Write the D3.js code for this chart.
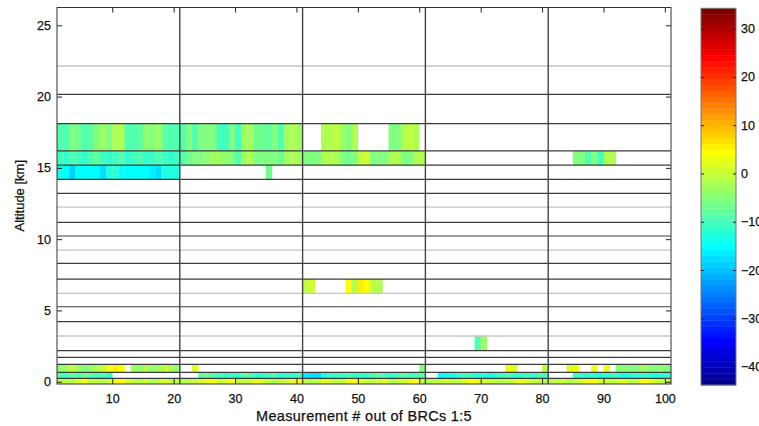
<!DOCTYPE html>
<html>
<head>
<meta charset="utf-8">
<script src="https://cdn.jsdelivr.net/npm/d3@7"></script>
<style>
  body { margin: 0; background: #fff; }
  svg { display: block; }
  text { font-family: "Liberation Sans", Arial, Helvetica, sans-serif; fill: #111; }
</style>
</head>
<body>
<svg id="chart" width="759" height="426"></svg>
<script>
const _ = null;

// Measurement index runs 1..100, one column per measurement
const measurements = d3.range(1, 101);

// Layer boundaries (km) drawn as horizontal rules
const darkLevels = [20.16, 18.11, 16.19, 15.19, 14.19, 13.21, 11.18, 10.22, 8.3, 7.2, 5.26, 4.21, 2.18, 1.71, 1.22, 0.66, 0.24];
const lightLevels = [22.15, 12.25, 9.23, 6.2, 3.21];

// Boundaries between measurement blocks
const blockBreaks = [21, 41, 61, 81];

// Tick values
const xTicks = [10, 20, 30, 40, 50, 60, 70, 80, 90, 100];
const yTicks = [0, 5, 10, 15, 20, 25];
const cTicks = [-40, -30, -20, -10, 0, 10, 20, 30];
const colorDomain = [-43.8, 34.2];

// Layer bottoms / tops (km)
const layerBottoms = [16.19, 15.19, 14.19, 6.2, 2.18, 0.66, 0.24, -0.16];
const layerTops    = [18.11, 16.19, 15.19, 7.2, 3.21, 1.22, 0.66, 0.24];

// Values per layer, columns 1..100 (null = no value)
const layer16to18 = [
  -9,-9,-6,-7,-9,-8,-6,-3,-6,-2, -2,-9,-9,-8,-4,-6,-3,-8,-9,-9,
  -9,-6,-9,-6,-6,-6,-10,-10,-6,-10, -3,-3,-7,-7,-8,-5,-9,-3,-2,-3,
  _,_,_,-2,-2,-1,-3,-5,-2,_, _,_,_,_,-6,-5,-2,-1,-2,_,
  _,_,_,_,_,_,_,_,_,_, _,_,_,_,_,_,_,_,_,_,
  _,_,_,_,_,_,_,_,_,_, _,_,_,_,_,_,_,_,_,_
];
const layer15to16 = [
  -10,-11,-9,-10,-11,-9,-8,-10,-11,-10, -9,-11,-10,-9,-11,-10,-9,-10,-11,-10,
  -9,-7,-5,-5,-4,-3,-3,-4,-6,-9, -3,-2,-6,-6,-5,-6,-7,-3,-2,-3,
  -6,-6,-5,-2,-2,-2,-6,-7,-6,0, 1,-5,-6,-5,-2,-2,-6,-5,-2,-2,
  _,_,_,_,_,_,_,_,_,_, _,_,_,_,_,_,_,_,_,_,
  _,_,_,_,-6,-6,-9,-5,-10,-2, -2,_,_,_,_,_,_,_,_,_
];
const layer14to15 = [
  -14,-15,-19,-15,-15,-15,-15,-18,-13,-12, -15,-15,-15,-15,-15,-16,-18,-13,-13,-13,
  _,_,_,_,_,_,_,_,_,_, _,_,_,_,-7,_,_,_,_,_,
  _,_,_,_,_,_,_,_,_,_, _,_,_,_,_,_,_,_,_,_,
  _,_,_,_,_,_,_,_,_,_, _,_,_,_,_,_,_,_,_,_,
  _,_,_,_,_,_,_,_,_,_, _,_,_,_,_,_,_,_,_,_
];
const layer6to7 = [
  _,_,_,_,_,_,_,_,_,_, _,_,_,_,_,_,_,_,_,_,
  _,_,_,_,_,_,_,_,_,_, _,_,_,_,_,_,_,_,_,_,
  -1,1,_,_,_,_,_,4,-2,5, 4,-1,-2,_,_,_,_,_,_,_,
  _,_,_,_,_,_,_,_,_,_, _,_,_,_,_,_,_,_,_,_,
  _,_,_,_,_,_,_,_,_,_, _,_,_,_,_,_,_,_,_,_
];
const layer2to3 = [
  _,_,_,_,_,_,_,_,_,_, _,_,_,_,_,_,_,_,_,_,
  _,_,_,_,_,_,_,_,_,_, _,_,_,_,_,_,_,_,_,_,
  _,_,_,_,_,_,_,_,_,_, _,_,_,_,_,_,_,_,_,_,
  _,_,_,_,_,_,_,_,-9,-3, _,_,_,_,_,_,_,_,_,_,
  _,_,_,_,_,_,_,_,_,_, _,_,_,_,_,_,_,_,_,_
];
const layer07to12 = [
  -4,-3,-1,-3,-5,-4,-2,-1,3,5, 4,_,-3,-4,-2,-4,-3,-1,-2,-4,
  _,_,2,_,_,_,_,_,_,_, _,_,_,_,_,_,_,_,_,_,
  _,_,_,_,_,_,_,_,_,_, _,_,_,_,_,_,_,_,_,-5,
  _,_,_,_,_,_,_,_,_,_, _,_,_,3,2,_,_,_,_,-1,
  _,_,_,2,3,_,_,3,_,3, _,-5,-4,-6,-5,-3,-4,-5,-4,-5
];
const layer02to07 = [
  -9,-10,-8,-9,-7,-8,-10,-9,-11,_, _,_,_,_,_,_,_,_,_,_,
  _,_,_,-8,-7,-9,-10,-12,-10,-11, -8,-9,-12,-11,-10,-9,-13,-12,-11,-10,
  -16,-18,-17,-13,-12,-10,-11,-9,-10,-12, -11,-9,-8,-10,-11,-9,-8,-10,-9,-8,
  _,_,-15,-14,-13,-12,-10,-11,-13,-12, -14,-11,-10,-9,-11,-12,-10,-11,-9,-10,
  _,_,_,_,-10,-11,-12,-11,-13,-12, -10,-11,-14,-13,-12,-11,-12,-13,-12,-11
];
const layer00to02 = [
  -1,0,-2,2,3,0,-1,-2,1,3, 4,2,0,-1,1,-2,-1,2,0,-1,
  -2,-1,0,1,3,4,0,2,4,-1, 0,1,3,2,-1,-2,0,1,3,4,
  -1,-2,0,2,1,-1,0,3,4,2, 0,-1,1,2,-2,-1,1,3,4,0,
  -2,-1,0,1,-1,0,2,4,3,1, 0,-1,-2,0,1,3,2,0,-1,-2,
  -1,0,1,-2,-1,2,3,4,1,0, -1,1,2,0,-1,4,3,1,0,-1
];
const layerValues = [layer16to18, layer15to16, layer14to15, layer6to7, layer2to3, layer07to12, layer02to07, layer00to02];

// ---- geometry ----
const svg = d3.select("#chart");
const plot = { left: 57, right: 671, top: 7.5, bottom: 384 };
const bar = { left: 701, right: 736, top: 8.3, bottom: 385 };

const x = d3.scaleLinear().domain([1, 101]).range([plot.left, plot.right]);
const y = d3.scaleLinear().domain([-0.16, 26.25]).range([plot.bottom, plot.top]);

// MATLAB-style 64-step jet
function jet(t) {
  const c = v => Math.max(0, Math.min(1, v));
  return d3.rgb(
    255 * c(1.5 - Math.abs(4 * t - 3)),
    255 * c(1.5 - Math.abs(4 * t - 2)),
    255 * c(1.5 - Math.abs(4 * t - 1))
  ).formatHex();
}
const nLevels = 64;
const color = v => {
  const t = (v - colorDomain[0]) / (colorDomain[1] - colorDomain[0]);
  const i = Math.max(1, Math.min(nLevels, Math.floor(t * nLevels) + 1));
  return jet(i / nLevels);
};

// ---- cells ----
const cells = [];
layerValues.forEach((vals, li) => {
  vals.forEach((v, ci) => {
    if (v !== null) cells.push({ m: measurements[ci], lo: layerBottoms[li], hi: layerTops[li], v });
  });
});

svg.append("g").selectAll("rect").data(cells).join("rect")
  .attr("x", d => x(d.m))
  .attr("width", d => x(d.m + 1) - x(d.m) + 0.3)
  .attr("y", d => y(d.hi))
  .attr("height", d => y(d.lo) - y(d.hi))
  .attr("fill", d => color(d.v));

// ---- rules ----
const rules = svg.append("g");
rules.selectAll("line.light").data(lightLevels).join("line")
  .attr("class", "light")
  .attr("x1", plot.left).attr("x2", plot.right)
  .attr("y1", d => y(d)).attr("y2", d => y(d))
  .attr("stroke", "#c4c4c4").attr("stroke-width", 1.4);
rules.selectAll("line.dark").data(darkLevels).join("line")
  .attr("class", "dark")
  .attr("x1", plot.left).attr("x2", plot.right)
  .attr("y1", d => y(d)).attr("y2", d => y(d))
  .attr("stroke", "#3c3c3c").attr("stroke-width", 1.2);
rules.selectAll("line.block").data(blockBreaks).join("line")
  .attr("class", "block")
  .attr("x1", d => x(d)).attr("x2", d => x(d))
  .attr("y1", plot.top).attr("y2", plot.bottom)
  .attr("stroke", "#444").attr("stroke-width", 1.4);

// ---- axes ----
const styleAxis = g => {
  g.select(".domain").remove();
  g.selectAll(".tick line").attr("stroke", "#222");
  g.selectAll(".tick text").attr("font-size", 12.5).attr("fill", "#111")
    .attr("stroke", "#111").attr("stroke-width", 0.25);
};
svg.append("g").attr("transform", `translate(0,${plot.bottom})`)
  .call(d3.axisBottom(x).tickValues(xTicks).tickSize(-5).tickPadding(10))
  .call(styleAxis);
svg.append("g").attr("transform", `translate(0,${plot.top})`)
  .call(d3.axisTop(x).tickValues(xTicks).tickSize(-5).tickFormat(""))
  .call(styleAxis);
svg.append("g").attr("transform", `translate(${plot.left},0)`)
  .call(d3.axisLeft(y).tickValues(yTicks).tickSize(-5).tickPadding(6))
  .call(styleAxis);
svg.append("g").attr("transform", `translate(${plot.right},0)`)
  .call(d3.axisRight(y).tickValues(yTicks).tickSize(-5).tickFormat(""))
  .call(styleAxis);

svg.append("rect")
  .attr("x", plot.left).attr("y", plot.top)
  .attr("width", plot.right - plot.left).attr("height", plot.bottom - plot.top)
  .attr("fill", "none").attr("stroke", "#333").attr("stroke-width", 1);

svg.append("text")
  .attr("transform", `translate(${(plot.left + plot.right) / 2},421)`)
  .attr("text-anchor", "middle").attr("font-size", 14.5).attr("letter-spacing", 0.3)
  .attr("stroke", "#111").attr("stroke-width", 0.25)
  .text("Measurement # out of BRCs 1:5");
svg.append("text")
  .attr("transform", `translate(24,${(plot.top + plot.bottom) / 2}) rotate(-90)`)
  .attr("text-anchor", "middle").attr("font-size", 13)
  .attr("stroke", "#111").attr("stroke-width", 0.25)
  .text("Altitude [km]");

// ---- colour bar ----
const c = d3.scaleLinear().domain(colorDomain).range([bar.bottom, bar.top]);
const steps = d3.range(1, nLevels + 1);
const stepSize = (colorDomain[1] - colorDomain[0]) / nLevels;
svg.append("g").selectAll("rect").data(steps).join("rect")
  .attr("x", bar.left).attr("width", bar.right - bar.left)
  .attr("y", i => c(colorDomain[0] + i * stepSize))
  .attr("height", (bar.bottom - bar.top) / nLevels + 0.4)
  .attr("fill", i => jet(i / nLevels));
svg.append("rect")
  .attr("x", bar.left).attr("y", bar.top)
  .attr("width", bar.right - bar.left).attr("height", bar.bottom - bar.top)
  .attr("fill", "none").attr("stroke", "#777").attr("stroke-width", 1);
svg.append("g").attr("transform", `translate(${bar.right},0)`)
  .call(d3.axisRight(c).tickValues(cTicks).tickSize(-3).tickPadding(5))
  .call(styleAxis);
svg.append("g").attr("transform", `translate(${bar.left},0)`)
  .call(d3.axisLeft(c).tickValues(cTicks).tickSize(-3).tickFormat(""))
  .call(styleAxis);
</script>
</body>
</html>
